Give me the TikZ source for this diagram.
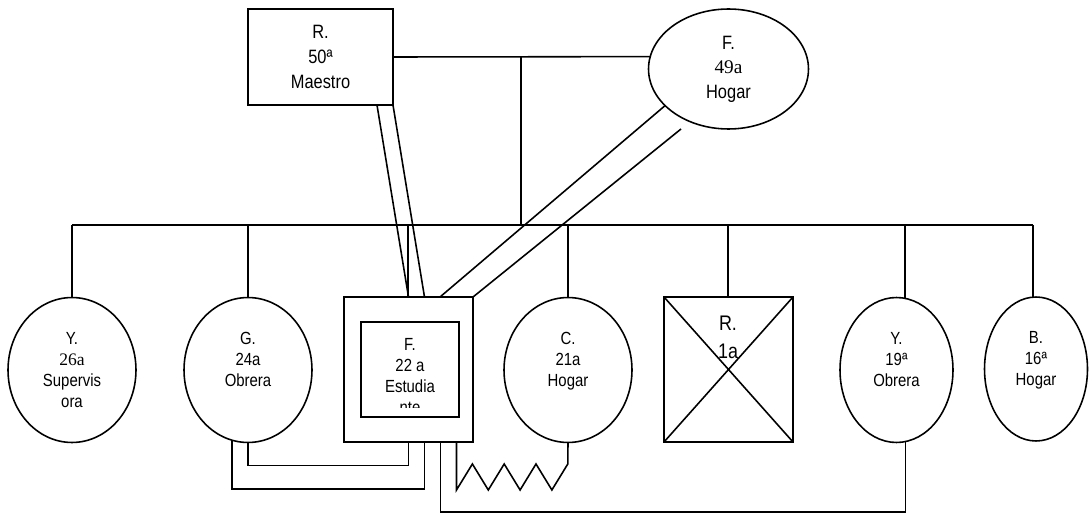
\documentclass[tikz,border=0pt]{standalone}
\usepackage{fontspec}
\setmainfont{Liberation Sans}[FakeStretch=0.85]
\newfontfamily\numserif{Liberation Serif}
\usetikzlibrary{shapes.geometric}

\begin{document}
\begin{tikzpicture}[x=0.02cm, y=-0.02cm, line width=0.9pt,
  every node/.style={inner sep=0pt, outer sep=0pt, align=center, font=\fontsize{10}{12}\selectfont},
  fem/.style={draw, ellipse, minimum width=2.56cm, minimum height=2.9cm},
  masc/.style={draw, rectangle, minimum width=2.58cm, minimum height=2.9cm},
  padre/.style={font=\fontsize{11}{14}\selectfont}]
\useasboundingbox (0,0) rectangle (1089,513);
% padres
\node[draw, padre, minimum width=2.9cm, minimum height=1.92cm] (r50) at (320.5,57) {R.\\50ª\\Maestro};
\node[fem, padre, minimum width=3.2cm, minimum height=2.4cm] (f49) at (728.5,69) {F.\\{\numserif 49a}\\Hogar};
% hijos
\node[fem] (y26) at (72,370) {Y.\\{\numserif 26a}\\Supervis\\ora};
\node[fem] (g24) at (248,370) {G.\\24a\\Obrera\\\mbox{}};
\node[masc] (f22) at (408.5,369.5) {};
\node[draw, minimum width=1.96cm, minimum height=1.9cm] (f22i) at (410,369.5) {};
\begin{scope}
  \clip (361,322) rectangle (459,407);
  \node (f22t) at (410,376) {F.\\22 a\\Estudia\\nte};
\end{scope}
\node[fem] (c21) at (568,370) {C.\\21a\\Hogar\\\mbox{}};
\node[masc, path picture={\draw (path picture bounding box.north west) -- (path picture bounding box.south east)
  (path picture bounding box.north east) -- (path picture bounding box.south west);}] (r1) at (728.5,369.5) {};
\node[font=\fontsize{12}{16}\selectfont] (r1t) at (728,337) {R.\\1a};
\node[fem, minimum width=2.26cm] (y19) at (896.5,370) {Y.\\19ª\\Obrera\\\mbox{}};
\node[fem, minimum width=2.06cm, minimum height=2.88cm] (b16) at (1036,369) {B.\\16ª\\Hogar\\\mbox{}};
% union y hermanos
\coordinate (pm) at (521,57);
\coordinate (sib) at (521,225);
\draw (r50.east) -- (f49.171);
\draw (pm) -- (sib);
\draw (72,225) -- (1033,225);
\foreach \n/\x in {y26/72, g24/248, f22/408, c21/568, r1/728, y19/905, b16/1033}
  \draw (\x,225) -- (\x,225 |- \n.north);
% relaciones
\draw ([xshift=-0.32cm]r50.south east) -- (f22.north);
\draw (r50.south east) -- ([xshift=0.32cm]f22.north);
\draw (f49.210) -- ([xshift=-0.66cm]f22.north east);
\coordinate (f49x) at (681,129);
\draw (f49x) -- (f22.north east);
\draw (g24.south) -- ++(0,23) -| (f22.south);
\draw (g24.257) -- (g24.257 |- 0,489) -| ([xshift=0.32cm]f22.south);
\draw ([xshift=0.64cm]f22.south) -- ++(0,70) -| ([xshift=0.18cm]y19.south);
\draw ([xshift=0.96cm]f22.south) -- ++(0,48) -- ++(15.9,-26) -- ++(15.9,26) -- ++(15.9,-26)
  -- ++(15.9,26) -- ++(15.9,-26) -- ++(15.9,26) -- ++(15.9,-26) -- (c21.south);
\end{tikzpicture}
\end{document}
